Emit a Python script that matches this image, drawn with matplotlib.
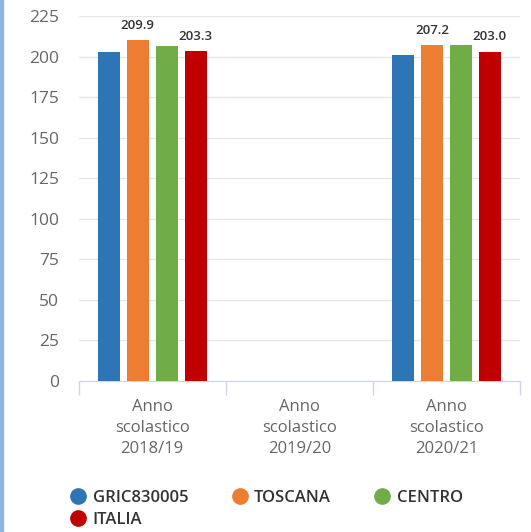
import matplotlib.pyplot as plt
import matplotlib.patches as mpatches
from matplotlib.lines import Line2D
import numpy as np

plt.rcParams['font.family'] = ['Open Sans', 'DejaVu Sans']

# dati
categories = ['Anno\nscolastico\n2018/19', 'Anno\nscolastico\n2019/20', 'Anno\nscolastico\n2020/21']
series_names = ['GRIC830005', 'TOSCANA', 'CENTRO', 'ITALIA']
gric = [203.1, np.nan, 200.9]
toscana = [209.9, np.nan, 207.2]
centro = [206.4, np.nan, 207.1]
italia = [203.3, np.nan, 203.0]
labelled = ['TOSCANA', 'ITALIA']  # solo queste serie mostrano il valore
y_ticks = [0, 25, 50, 75, 100, 125, 150, 175, 200, 225]

colors = ['#2e75b6', '#ed7d31', '#70ad47', '#c00000']
values = [gric, toscana, centro, italia]

W, H = 531, 532
fig = plt.figure(figsize=(W / 100, H / 100), dpi=100)
ax = fig.add_axes([78.6 / W, (H - 381) / H, (520 - 78.6) / W, (381 - 16) / H])

x = np.arange(len(categories))
step = 0.197
bw = 0.15
for i, (name, vals, c) in enumerate(zip(series_names, values, colors)):
    pos = x + (i - 1.5) * step
    bars = ax.bar(pos, vals, width=bw, color=c, zorder=3)
    if name in labelled:
        for b, v in zip(bars, vals):
            if not np.isnan(v):
                ax.annotate(f'{v:.1f}', (b.get_x() + b.get_width() / 2, v),
                            xytext=(0, 6), textcoords='offset points',
                            ha='center', va='bottom', fontsize=9.5,
                            fontweight='semibold', color='#333333')

ax.set_xlim(-0.5, len(categories) - 0.5)
ax.set_ylim(0, 225)
ax.set_yticks(y_ticks)
ax.tick_params(axis='y', length=0, pad=14, labelsize=12.5, labelcolor='#666666')
ax.set_xticks(x)
ax.set_xticklabels(categories, fontsize=12, color='#666666', linespacing=1.4)
ax.tick_params(axis='x', length=0, pad=13)
# separatori tra le categorie
ax.set_xticks(np.arange(len(categories) + 1) - 0.5, minor=True)
ax.tick_params(axis='x', which='minor', length=10, color='#ccd6eb', width=1)

ax.grid(axis='y', color='#e6e6e6', linewidth=1, zorder=0)
for s in ['top', 'right', 'left']:
    ax.spines[s].set_visible(False)
ax.spines['bottom'].set_color('#ccd6eb')

# legenda (ordine per colonne)
order = [0, 3, 1, 2]
handles = [Line2D([], [], marker='o', linestyle='', markersize=11,
                  color=colors[k]) for k in order]
fig.legend(handles, [series_names[k] for k in order], ncol=3,
           loc='upper left', bbox_to_anchor=(70 / W, 1 - 490 / H),
           frameon=False, prop={'size': 12, 'weight': 'semibold'},
           labelcolor='#333333',
           handletextpad=0.35, columnspacing=2.6, labelspacing=0.35,
           handlelength=1.0, borderaxespad=0, borderpad=0)

# bordo sinistro azzurro
fig.patches.append(mpatches.Rectangle((0, 0), 3 / W, 1, transform=fig.transFigure,
                                      color='#8db4e2', zorder=10))

plt.savefig('out.png', dpi=100)
plt.close()
